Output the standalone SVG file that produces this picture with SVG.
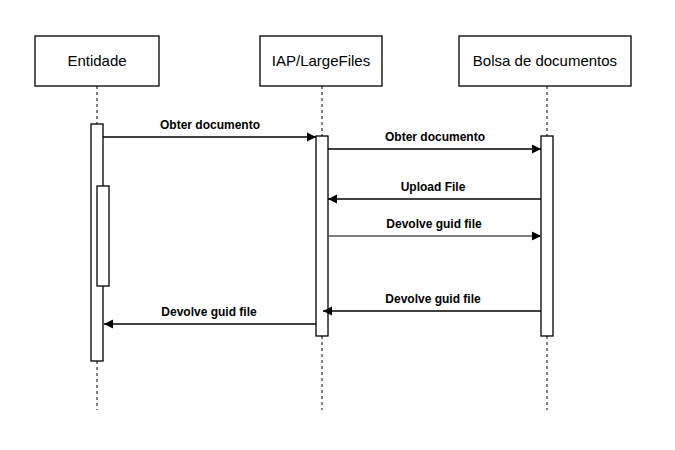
<svg xmlns="http://www.w3.org/2000/svg" width="675" height="450" viewBox="0 0 675 450">
<defs>
<marker id="arr" markerWidth="10" markerHeight="10" refX="9" refY="5" orient="auto" markerUnits="userSpaceOnUse">
<path d="M0,0.5 L9,5 L0,9.5 Z" fill="#000"/>
</marker>
<marker id="arrg" markerWidth="10" markerHeight="10" refX="9" refY="5" orient="auto" markerUnits="userSpaceOnUse">
<path d="M0,0.5 L9,5 L0,9.5 Z" fill="#000"/>
</marker>
<style>
.box{fill:#fff;stroke:#000;stroke-width:1.3}
.life{stroke:#000;stroke-width:1;stroke-dasharray:3,3;fill:none}
.act{fill:#fff;stroke:#000;stroke-width:1.3}
.title{font-family:"Liberation Sans",Arial,sans-serif;font-size:15px;text-anchor:middle;fill:#000}
.msg{stroke:#000;stroke-width:1.3;fill:none;marker-end:url(#arr)}
.lbl{font-family:"Liberation Sans",Arial,sans-serif;font-size:12px;font-weight:bold;text-anchor:middle;fill:#000}
</style>
</defs>
<rect width="675" height="450" fill="#fff"/>
<g id="entidade">
<rect class="box" x="35" y="36" width="124" height="50"/>
<text class="title" x="97" y="66">Entidade</text>
<line class="life" x1="97" y1="86" x2="97" y2="124"/>
<line class="life" x1="97" y1="361" x2="97" y2="410"/>
<rect class="act" x="91" y="124" width="12" height="237"/>
<rect class="act" x="97" y="186" width="12" height="100"/>
</g>
<g id="iap">
<rect class="box" x="260" y="36" width="122" height="50"/>
<text class="title" x="321" y="66">IAP/LargeFiles</text>
<line class="life" x1="322" y1="86" x2="322" y2="136"/>
<line class="life" x1="322" y1="336" x2="322" y2="410"/>
<rect class="act" x="316" y="136" width="12" height="200"/>
</g>
<g id="bolsa">
<rect class="box" x="459" y="36" width="172" height="50"/>
<text class="title" x="545" y="66">Bolsa de documentos</text>
<line class="life" x1="547" y1="86" x2="547" y2="136"/>
<line class="life" x1="547" y1="336" x2="547" y2="410"/>
<rect class="act" x="541" y="136" width="12" height="200"/>
</g>
<g id="connectors">
<line class="msg" x1="103" y1="137" x2="316" y2="137"/>
<text class="lbl" x="210" y="129">Obter documento</text>
<line class="msg" x1="328" y1="149" x2="541" y2="149"/>
<text class="lbl" x="435" y="141">Obter documento</text>
<line class="msg" x1="541" y1="199" x2="328" y2="199"/>
<text class="lbl" x="433" y="191">Upload File</text>
<line class="msg" x1="328" y1="236" x2="541" y2="236" style="stroke:#555"/>
<text class="lbl" x="434" y="228">Devolve guid file</text>
<line class="msg" x1="541" y1="311" x2="323" y2="311"/>
<text class="lbl" x="433" y="303">Devolve guid file</text>
<line class="msg" x1="316" y1="324" x2="104" y2="324"/>
<text class="lbl" x="209" y="316">Devolve guid file</text>
</g>
</svg>
